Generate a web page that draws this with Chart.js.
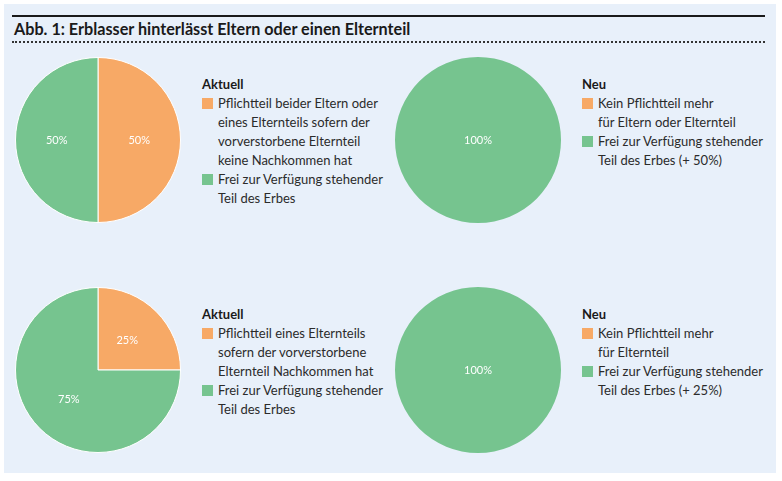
<!DOCTYPE html>
<html>
<head>
<meta charset="utf-8">
<script src="https://cdn.jsdelivr.net/npm/chart.js@4"></script>
<style>
  html, body { margin: 0; padding: 0; background: #ffffff; }
  body { width: 782px; height: 481px; position: relative; overflow: hidden; font-family: Lato, "Open Sans", sans-serif; }
  #panel { position: absolute; left: 4px; top: 4px; width: 772px; height: 469px; background: #E8F0FA; }
  #topline { position: absolute; left: 12px; top: 15px; width: 753px; height: 2px; background: #1a1a1a; }
  #title { position: absolute; left: 14px; top: 20px; font-size: 16.2px; font-weight: bold; color: #1a1a1a; line-height: 18px; white-space: nowrap; }
  #dotline { position: absolute; left: 12px; top: 41px; width: 753px; height: 0; border-top: 2px dotted #333; }
  .pie { position: absolute; }
  .legend { position: absolute; font-size: 13px; color: #2b2b2b; line-height: 19px; white-space: nowrap; }
  .legend .hd { font-weight: bold; color: #1a1a1a; }
  .legend .row { position: relative; padding-left: 16px; }
  .legend .sw { position: absolute; left: 0; top: 4px; width: 11px; height: 11px; }
</style>
</head>
<body>
<div id="panel"></div>
<div id="topline"></div>
<div id="title">Abb. 1: Erblasser hinterlässt Eltern oder einen Elternteil</div>
<div id="dotline"></div>

<div class="pie" style="left:15px;top:57px;width:166px;height:166px;"><canvas id="c1"></canvas></div>
<div class="pie" style="left:395px;top:57px;width:166px;height:166px;"><canvas id="c2"></canvas></div>
<div class="pie" style="left:15px;top:287px;width:166px;height:166px;"><canvas id="c3"></canvas></div>
<div class="pie" style="left:395px;top:287px;width:166px;height:166px;"><canvas id="c4"></canvas></div>

<div class="legend" id="l1" style="left:202px;top:75px;"></div>
<div class="legend" id="l2" style="left:582px;top:75px;"></div>
<div class="legend" id="l3" style="left:202px;top:305px;"></div>
<div class="legend" id="l4" style="left:582px;top:305px;"></div>

<script>
// ---- data ----
const sliceColors = ['#F7A966', '#76C48F'];
const pie1Values = [50, 50];   // Aktuell (Eltern)
const pie2Values = [0, 100];   // Neu (Eltern)
const pie3Values = [25, 75];   // Aktuell (Elternteil)
const pie4Values = [0, 100];   // Neu (Elternteil)

const legend1Title = 'Aktuell';
const legend1Items = [
  ['Pflichtteil beider Eltern oder', 'eines Elternteils sofern der', 'vorverstorbene Elternteil', 'keine Nachkommen hat'],
  ['Frei zur Verfügung stehender', 'Teil des Erbes']
];
const legend2Title = 'Neu';
const legend2Items = [
  ['Kein Pflichtteil mehr', 'für Eltern oder Elternteil'],
  ['Frei zur Verfügung stehender', 'Teil des Erbes (+ 50%)']
];
const legend3Title = 'Aktuell';
const legend3Items = [
  ['Pflichtteil eines Elternteils', 'sofern der vorverstorbene', 'Elternteil Nachkommen hat'],
  ['Frei zur Verfügung stehender', 'Teil des Erbes']
];
const legend4Title = 'Neu';
const legend4Items = [
  ['Kein Pflichtteil mehr', 'für Elternteil'],
  ['Frei zur Verfügung stehender', 'Teil des Erbes (+ 25%)']
];

// ---- legends ----
function buildLegend(id, title, items) {
  const el = document.getElementById(id);
  let html = '<div class="hd">' + title + '</div>';
  items.forEach((lines, i) => {
    html += '<div class="row"><span class="sw" style="background:' + sliceColors[i] + '"></span>' + lines.join('<br>') + '</div>';
  });
  el.innerHTML = html;
}
buildLegend('l1', legend1Title, legend1Items);
buildLegend('l2', legend2Title, legend2Items);
buildLegend('l3', legend3Title, legend3Items);
buildLegend('l4', legend4Title, legend4Items);

// ---- pie labels ----
const pctLabels = {
  id: 'pctLabels',
  afterDatasetsDraw(chart) {
    const ctx = chart.ctx;
    const meta = chart.getDatasetMeta(0);
    const data = chart.data.datasets[0].data;
    const total = data.reduce((a, b) => a + b, 0);
    ctx.save();
    ctx.fillStyle = '#ffffff';
    ctx.font = '11px Lato, "Open Sans", sans-serif';
    ctx.textAlign = 'center';
    ctx.textBaseline = 'middle';
    meta.data.forEach((arc, i) => {
      const v = data[i];
      if (!v) return;
      const pct = Math.round(v / total * 100);
      let x, y;
      if (pct === 100) {
        x = arc.x; y = arc.y;
      } else {
        const mid = (arc.startAngle + arc.endAngle) / 2;
        const r = arc.outerRadius * 0.5;
        x = arc.x + Math.cos(mid) * r;
        y = arc.y + Math.sin(mid) * r;
      }
      ctx.fillText(pct + '%', x, y);
    });
    ctx.restore();
  }
};

function makePie(id, values) {
  const hasZero = values.some(v => v === 0);
  new Chart(document.getElementById(id), {
    type: 'pie',
    data: {
      labels: ['Pflichtteil', 'Frei'],
      datasets: [{
        data: values,
        backgroundColor: sliceColors,
        borderColor: '#ffffff',
        borderWidth: hasZero ? 0 : 1
      }]
    },
    options: {
      responsive: true,
      maintainAspectRatio: false,
      animation: false,
      layout: { padding: 0 },
      plugins: { legend: { display: false }, tooltip: { enabled: false } }
    },
    plugins: [pctLabels]
  });
}
makePie('c1', pie1Values);
makePie('c2', pie2Values);
makePie('c3', pie3Values);
makePie('c4', pie4Values);
</script>
</body>
</html>
